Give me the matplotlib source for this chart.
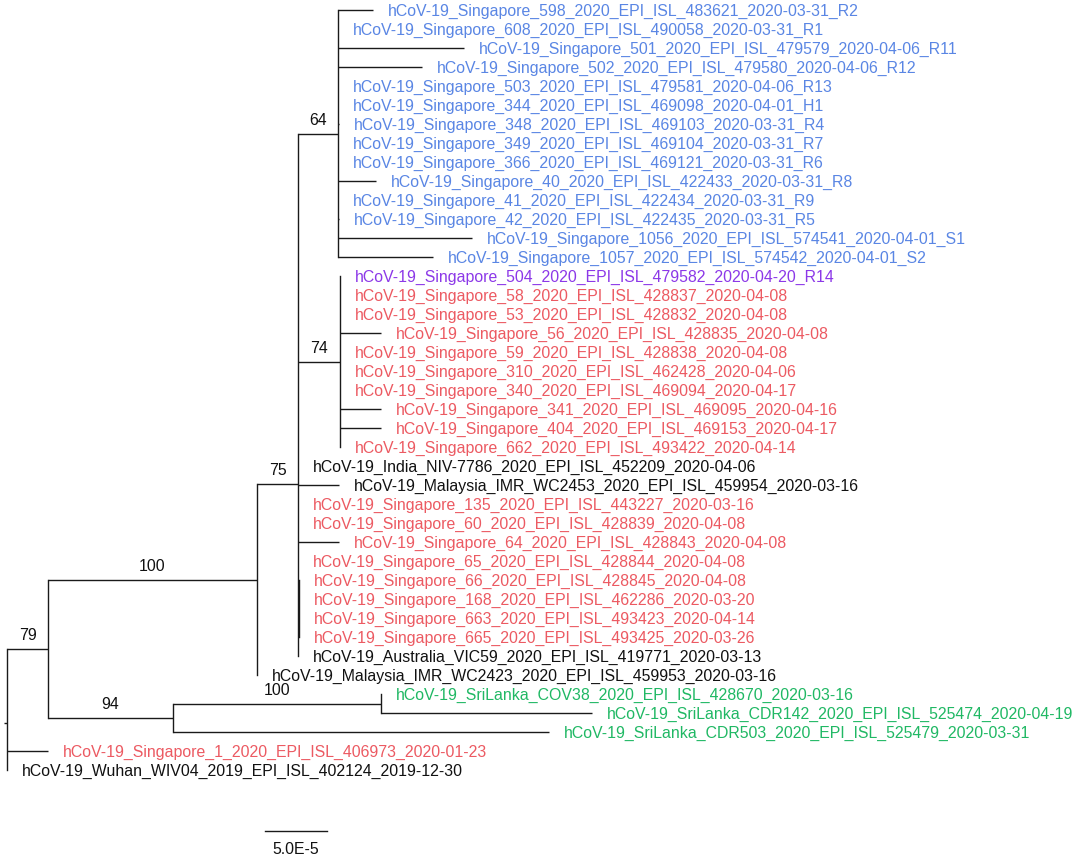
import re
import matplotlib
matplotlib.use("Agg")
import matplotlib.pyplot as plt

# tree in newick form, branch lengths in units of 1e-5 substitutions/site,
# internal node names are bootstrap values
clade_r = (
    "(hCoV-19_Singapore_598_2020_EPI_ISL_483621_2020-03-31_R2:2.82,"
    "hCoV-19_Singapore_608_2020_EPI_ISL_490058_2020-03-31_R1:0,"
    "hCoV-19_Singapore_501_2020_EPI_ISL_479579_2020-04-06_R11:10.16,"
    "hCoV-19_Singapore_502_2020_EPI_ISL_479580_2020-04-06_R12:6.77,"
    "hCoV-19_Singapore_503_2020_EPI_ISL_479581_2020-04-06_R13:0,"
    "hCoV-19_Singapore_344_2020_EPI_ISL_469098_2020-04-01_H1:0,"
    "hCoV-19_Singapore_348_2020_EPI_ISL_469103_2020-03-31_R4:0.1,"
    "hCoV-19_Singapore_349_2020_EPI_ISL_469104_2020-03-31_R7:0,"
    "hCoV-19_Singapore_366_2020_EPI_ISL_469121_2020-03-31_R6:0,"
    "hCoV-19_Singapore_40_2020_EPI_ISL_422433_2020-03-31_R8:3.06,"
    "hCoV-19_Singapore_41_2020_EPI_ISL_422434_2020-03-31_R9:0,"
    "hCoV-19_Singapore_42_2020_EPI_ISL_422435_2020-03-31_R5:0.1,"
    "hCoV-19_Singapore_1056_2020_EPI_ISL_574541_2020-04-01_S1:10.8,"
    "hCoV-19_Singapore_1057_2020_EPI_ISL_574542_2020-04-01_S2:7.66)64:3.23"
)
clade_74 = (
    "(hCoV-19_Singapore_504_2020_EPI_ISL_479582_2020-04-20_R14:0,"
    "hCoV-19_Singapore_58_2020_EPI_ISL_428837_2020-04-08:0,"
    "hCoV-19_Singapore_53_2020_EPI_ISL_428832_2020-04-08:0,"
    "hCoV-19_Singapore_56_2020_EPI_ISL_428835_2020-04-08:3.31,"
    "hCoV-19_Singapore_59_2020_EPI_ISL_428838_2020-04-08:0,"
    "hCoV-19_Singapore_310_2020_EPI_ISL_462428_2020-04-06:0,"
    "hCoV-19_Singapore_340_2020_EPI_ISL_469094_2020-04-17:0,"
    "hCoV-19_Singapore_341_2020_EPI_ISL_469095_2020-04-16:3.31,"
    "hCoV-19_Singapore_404_2020_EPI_ISL_469153_2020-04-17:3.31,"
    "hCoV-19_Singapore_662_2020_EPI_ISL_493422_2020-04-14:0)74:3.39"
)
clade_75 = (
    "(" + clade_r + "," + clade_74 + ","
    "hCoV-19_India_NIV-7786_2020_EPI_ISL_452209_2020-04-06:0,"
    "hCoV-19_Malaysia_IMR_WC2453_2020_EPI_ISL_459954_2020-03-16:3.31,"
    "hCoV-19_Singapore_135_2020_EPI_ISL_443227_2020-03-16:0,"
    "hCoV-19_Singapore_60_2020_EPI_ISL_428839_2020-04-08:0,"
    "hCoV-19_Singapore_64_2020_EPI_ISL_428843_2020-04-08:3.31,"
    "hCoV-19_Singapore_65_2020_EPI_ISL_428844_2020-04-08:0,"
    "(hCoV-19_Singapore_66_2020_EPI_ISL_428845_2020-04-08:0,"
    "hCoV-19_Singapore_168_2020_EPI_ISL_462286_2020-03-20:0,"
    "hCoV-19_Singapore_663_2020_EPI_ISL_493423_2020-04-14:0,"
    "hCoV-19_Singapore_665_2020_EPI_ISL_493425_2020-03-26:0):0.1,"
    "hCoV-19_Australia_VIC59_2020_EPI_ISL_419771_2020-03-13:0)75:3.31"
)
clade_srilanka = (
    "((hCoV-19_SriLanka_COV38_2020_EPI_ISL_428670_2020-03-16:0,"
    "hCoV-19_SriLanka_CDR142_2020_EPI_ISL_525474_2020-04-19:17.02)100:16.77,"
    "hCoV-19_SriLanka_CDR503_2020_EPI_ISL_525479_2020-03-31:30.32)94:10.08"
)
newick = (
    "(((" + clade_75 + ","
    "hCoV-19_Malaysia_IMR_WC2423_2020_EPI_ISL_459953_2020-03-16:0)100:16.85,"
    + clade_srilanka + ")79:3.31,"
    "hCoV-19_Singapore_1_2020_EPI_ISL_406973_2020-01-23:3.31,"
    "hCoV-19_Wuhan_WIV04_2019_EPI_ISL_402124_2019-12-30:0);"
)

scale_len = 5.0          # 5.0E-5
scale_text = "5.0E-5"

colors = {
    "blue": "#5A86E4",
    "purple": "#8C38E8",
    "red": "#EC5A62",
    "green": "#20B864",
    "black": "#111111",
}


def leaf_color(name):
    if "SriLanka" in name:
        return colors["green"]
    if name.endswith("_R14"):
        return colors["purple"]
    if re.search(r"_(R\d+|H\d+|S\d+)$", name):
        return colors["blue"]
    if "Singapore" in name:
        return colors["red"]
    return colors["black"]


def parse(s):
    pos = 0

    def node():
        nonlocal pos
        kids = []
        if s[pos] == "(":
            pos += 1
            kids.append(node())
            while s[pos] == ",":
                pos += 1
                kids.append(node())
            pos += 1
        start = pos
        while s[pos] not in ",():;":
            pos += 1
        name = s[start:pos]
        length = 0.0
        if s[pos] == ":":
            pos += 1
            start = pos
            while s[pos] not in ",();":
                pos += 1
            length = float(s[start:pos])
        return {"name": name, "len": length, "kids": kids}

    return node()


root = parse(newick)
leaves = []


def layout(n, x):
    n["x"] = x + n["len"]
    if not n["kids"]:
        n["y"] = len(leaves)
        leaves.append(n)
    else:
        for k in n["kids"]:
            layout(k, n["x"])
        n["y"] = sum(k["y"] for k in n["kids"]) / len(n["kids"])


root["len"] = 0.0
layout(root, 0.0)

fig = plt.figure(figsize=(10.84, 8.61), dpi=100)
ax = fig.add_axes([0, 0, 1, 1])
ax.axis("off")
px = 12.4   # pixels per 1e-5
row = 19.0  # pixels per leaf
ax.set_xlim(-7 / px, (1084 - 7) / px)
ax.set_ylim((861 - 10) / row, -10 / row)

lw = 1.0
lc = "#1a1a1a"
fam = ["Liberation Sans", "DejaVu Sans"]
fs = 11.4


def draw(n, parent_x):
    ax.plot([parent_x, n["x"]], [n["y"], n["y"]], color=lc, lw=lw,
            solid_capstyle="butt")
    if n["kids"]:
        ys = [k["y"] for k in n["kids"]]
        ax.plot([n["x"], n["x"]], [min(ys), max(ys)], color=lc, lw=lw,
                solid_capstyle="projecting")
        for k in n["kids"]:
            draw(k, n["x"])
        if n["name"]:
            ax.annotate(n["name"], ((parent_x + n["x"]) / 2, n["y"]),
                        xytext=(0, 6.2), textcoords="offset points",
                        ha="center", va="baseline", fontsize=fs,
                        family=fam, color="#111111")
    else:
        ax.annotate(n["name"], (n["x"], n["y"]), xytext=(10.4, -4.0),
                    textcoords="offset points", ha="left", va="baseline",
                    fontsize=fs, family=fam, color=leaf_color(n["name"]))


draw(root, -3 / px)

# scale bar
sb_x = (265 - 7) / px
sb_y = (831 - 10) / row
ax.plot([sb_x, sb_x + scale_len], [sb_y, sb_y], color=lc, lw=lw)
ax.annotate(scale_text, (sb_x + scale_len / 2, sb_y), xytext=(0, -16.9),
            textcoords="offset points", ha="center", va="baseline",
            fontsize=fs, family=fam, color="#111111")

fig.savefig("out.png", dpi=100, facecolor="white")
